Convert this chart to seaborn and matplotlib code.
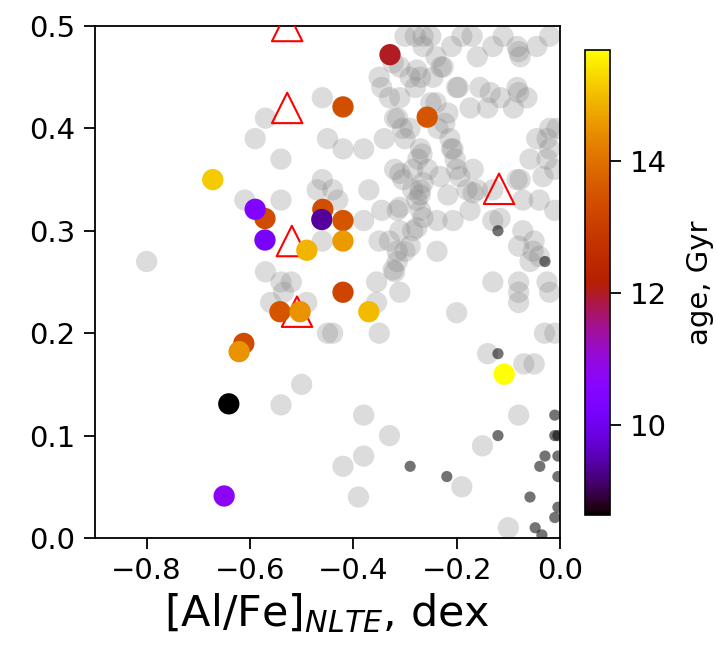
import matplotlib
matplotlib.use("Agg")
import matplotlib.pyplot as plt
import seaborn as sns
import numpy as np
import pandas as pd
from matplotlib.colors import Normalize
from matplotlib.cm import ScalarMappable

# ---------------- data ----------------
gray_x = [-0.80, -0.61, -0.59, -0.57, -0.54, -0.54, -0.46, -0.45, -0.46, -0.47,
          -0.57, -0.46, -0.54, -0.52, -0.535, -0.56, -0.49, -0.45, -0.50, -0.54,
          -0.42, -0.38, -0.34, -0.35, -0.345, -0.33, -0.32, -0.37, -0.32, -0.43,
          -0.38, -0.33, -0.315, -0.315, -0.315, -0.355, -0.355, -0.44, -0.35, -0.31,
          -0.32, -0.38, -0.33, -0.38, -0.42, -0.39, -0.19, -0.10, -0.15, -0.08,
          -0.14, -0.07, -0.05, -0.20, -0.13, -0.08, -0.08, -0.08, -0.025, -0.02,
          -0.03, -0.01, -0.44,
          -0.28, -0.265, -0.265, -0.19, -0.16, -0.13, -0.11, -0.083, -0.077, -0.045,
          -0.02, -0.226, -0.246, -0.27, -0.29, -0.28, -0.197, -0.20, -0.155, -0.135,
          -0.115, -0.083, -0.08, -0.064, -0.25, -0.24, -0.217, -0.223, -0.174, -0.14,
          -0.09, -0.31, -0.314, -0.29, -0.30, -0.236, -0.213, -0.207, -0.203, -0.20,
          -0.21, -0.267, -0.285, -0.31, -0.256, -0.232, -0.194, -0.168, -0.265, -0.045,
          -0.025, -0.058, -0.025, -0.006, -0.083, -0.033, -0.323, -0.31, -0.277, -0.23,
          -0.27, -0.275, -0.305,
          -0.304, -0.285, -0.277, -0.285, -0.18, -0.16, -0.13, -0.13, -0.077, -0.02,
          -0.072, -0.04, -0.01, -0.08, -0.05, -0.04, -0.01, -0.02,
          -0.271, -0.31, -0.265, -0.277, -0.238, -0.207, -0.174, -0.217, -0.168, -0.116,
          -0.072, -0.052, -0.058, -0.238, -0.30, -0.323,
          -0.30, -0.25, -0.24, -0.21, -0.17, -0.08, -0.27, -0.345, -0.31, -0.27,
          -0.35, -0.29]
gray_y = [0.27, 0.33, 0.39, 0.41, 0.37, 0.33, 0.43, 0.39, 0.35, 0.34,
          0.26, 0.29, 0.25, 0.25, 0.24, 0.23, 0.23, 0.20, 0.15, 0.13,
          0.38, 0.38, 0.39, 0.45, 0.44, 0.43, 0.41, 0.34, 0.36, 0.33,
          0.31, 0.29, 0.28, 0.27, 0.32, 0.25, 0.23, 0.20, 0.20, 0.24,
          0.26, 0.12, 0.10, 0.08, 0.07, 0.04, 0.05, 0.01, 0.09, 0.12,
          0.18, 0.17, 0.17, 0.22, 0.25, 0.25, 0.24, 0.23, 0.25, 0.24,
          0.20, 0.20, 0.34,
          0.49, 0.49, 0.48, 0.49, 0.47, 0.48, 0.49, 0.48, 0.47, 0.48,
          0.49, 0.46, 0.45, 0.45, 0.45, 0.44, 0.44, 0.44, 0.44, 0.435,
          0.43, 0.44, 0.435, 0.43, 0.425, 0.425, 0.415, 0.405, 0.42, 0.42,
          0.42, 0.43, 0.41, 0.40, 0.39, 0.40, 0.39, 0.38, 0.37, 0.36,
          0.38, 0.375, 0.36, 0.356, 0.36, 0.353, 0.353, 0.36, 0.347, 0.39,
          0.39, 0.37, 0.37, 0.40, 0.35, 0.353, 0.464, 0.46, 0.457, 0.46,
          0.38, 0.37, 0.40,
          0.35, 0.34, 0.33, 0.30, 0.34, 0.34, 0.34, 0.31, 0.35, 0.40,
          0.33, 0.33, 0.32, 0.285, 0.29, 0.275, 0.36, 0.38,
          0.335, 0.323, 0.313, 0.303, 0.31, 0.31, 0.32, 0.335, 0.337, 0.312,
          0.30, 0.28, 0.27, 0.28, 0.28, 0.262,
          0.49, 0.49, 0.47, 0.48, 0.49, 0.475, 0.34, 0.32, 0.30, 0.32,
          0.29, 0.285]

dark_x = [-0.12, -0.029, -0.12, -0.12, -0.29, -0.219, -0.01, -0.01, -0.004, -0.029,
          -0.004, -0.039, -0.004, -0.058, -0.004, -0.01, -0.048, -0.035]
dark_y = [0.30, 0.27, 0.18, 0.10, 0.07, 0.06, 0.12, 0.10, 0.10, 0.08,
          0.08, 0.07, 0.06, 0.04, 0.03, 0.02, 0.01, 0.003]

col_x = [-0.672, -0.571, -0.59, -0.571, -0.42, -0.329, -0.257, -0.459, -0.461, -0.42,
         -0.42, -0.49, -0.42, -0.37, -0.542, -0.503, -0.612, -0.621, -0.641, -0.65,
         -0.108]
col_y = [0.35, 0.312, 0.321, 0.291, 0.421, 0.472, 0.411, 0.321, 0.311, 0.31,
         0.29, 0.281, 0.24, 0.221, 0.221, 0.221, 0.19, 0.182, 0.131, 0.041,
         0.16]
col_age = [15.15, 13.3, 10.4, 10.2, 13.4, 12.0, 13.5, 13.4, 9.4, 13.5,
           14.6, 14.9, 13.2, 15.0, 13.5, 14.5, 13.3, 14.5, 8.63, 10.7,
           15.69]

tri_x = [-0.528, -0.528, -0.519, -0.509, -0.118]
tri_y = [0.50, 0.42, 0.29, 0.221, 0.341]

age_min, age_max = 8.63, 15.69
cbar_ticks = [10, 12, 14]
x_ticks = [-0.8, -0.6, -0.4, -0.2, 0.0]
y_ticks = [0.0, 0.1, 0.2, 0.3, 0.4, 0.5]

# ---------------- style ----------------
sns.set_style("ticks")
plt.rcParams['font.family'] = ['DejaVu Sans']
plt.rcParams['axes.linewidth'] = 1.3
plt.rcParams['xtick.major.size'] = 8
plt.rcParams['ytick.major.size'] = 8
plt.rcParams['xtick.major.width'] = 1.3
plt.rcParams['ytick.major.width'] = 1.3
plt.rcParams['xtick.major.pad'] = 6
plt.rcParams['ytick.major.pad'] = 6
plt.rcParams['xtick.color'] = 'black'
plt.rcParams['ytick.color'] = 'black'
plt.rcParams['xtick.labelcolor'] = 'black'
plt.rcParams['ytick.labelcolor'] = 'black'
plt.rcParams['axes.edgecolor'] = 'black'
plt.rcParams['axes.labelcolor'] = 'black'
plt.rcParams['text.color'] = 'black'

fig = plt.figure(figsize=(7.18, 6.47), dpi=100)
ax = fig.add_axes([0.1323, 0.1685, 0.6476, 0.7913])

df_gray = pd.DataFrame({"x": gray_x, "y": gray_y})
df_dark = pd.DataFrame({"x": dark_x, "y": dark_y})
df_col = pd.DataFrame({"x": col_x, "y": col_y, "age": col_age})
df_tri = pd.DataFrame({"x": tri_x, "y": tri_y})

sns.scatterplot(data=df_gray, x="x", y="y", ax=ax, color="gray", alpha=0.27,
                s=235, edgecolor="none", linewidth=0, zorder=1)
sns.scatterplot(data=df_dark, x="x", y="y", ax=ax, color="black", alpha=0.55,
                s=65, edgecolor="none", linewidth=0, zorder=2)
sns.scatterplot(data=df_tri, x="x", y="y", ax=ax, marker="^", s=480,
                facecolors="none", edgecolors="red", linewidth=1.5, zorder=3,
                clip_on=True)
sns.scatterplot(data=df_col, x="x", y="y", hue="age", ax=ax, palette="gnuplot",
                hue_norm=(age_min, age_max), s=235, edgecolor="none",
                linewidth=0, legend=False, zorder=4)

ax.set_xlim(-0.9, 0.0)
ax.set_ylim(0.0, 0.5)
ax.set_xticks(x_ticks)
ax.set_yticks(y_ticks)
ax.tick_params(labelsize=21, direction="out", colors="black")
ax.set_xlabel(r"[Al/Fe]$_{NLTE}$, dex", fontsize=31, labelpad=4, color="black")
ax.set_ylabel("")
for sp in ax.spines.values():
    sp.set_visible(True)
    sp.set_linewidth(1.3)
    sp.set_color("black")

cax = fig.add_axes([0.8148, 0.204, 0.0348, 0.7187])
sm = ScalarMappable(norm=Normalize(age_min, age_max), cmap="gnuplot")
sm.set_array([])
cbar = fig.colorbar(sm, cax=cax)
cbar.set_ticks(cbar_ticks)
cbar.ax.tick_params(labelsize=21, length=8, width=1.3, colors="black")
cbar.set_label("age, Gyr", fontsize=21, labelpad=14, color="black")
cbar.outline.set_linewidth(1.2)
cbar.outline.set_edgecolor("black")

fig.savefig("out.png", dpi=100)
